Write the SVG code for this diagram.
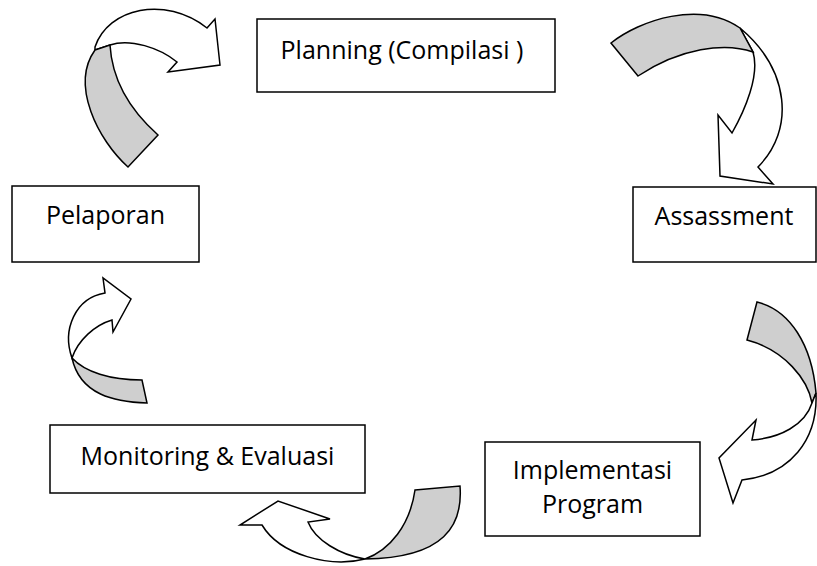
<svg xmlns="http://www.w3.org/2000/svg" width="817" height="566" viewBox="0 0 817 566">
  <style>
    .box { fill: #ffffff; stroke: #000000; stroke-width: 1.5; }
    .label { font-family: "Open Sans", "Noto Sans", "Liberation Sans", sans-serif; font-size: 25px; fill: #000000; text-anchor: middle; }
    .head { fill: #ffffff; stroke: #000000; stroke-width: 1.5; stroke-linejoin: miter; }
    .band { fill: #cfcfcf; stroke: #000000; stroke-width: 1.5; stroke-linejoin: miter; }
  </style>

  <rect width="817" height="566" fill="#ffffff"/>

  <!-- curved 3D-style arrows linking the cycle steps -->
  <g id="connectors">
    <!-- Pelaporan -> Planning -->
    <g id="arrow-pelaporan-planning">
      <path class="head" d="M95,47 C108,8 165,-5 207,28 L215,19 L220,65 L168,72 L177,62 C160,48 130,38 110,45 L95,50 Z"/>
      <path class="band" d="M95,50 L110,45 C112,80 130,110 158,135 L128,167 C98,140 70,85 95,50 Z"/>
    </g>
    <!-- Planning -> Assessment -->
    <g id="arrow-planning-assessment">
      <path class="head" d="M740,28 C790,70 795,130 758,167 L773,184 L720,176 L718,115 L732,133 C745,110 760,75 753,52 Z"/>
      <path class="band" d="M611,43 C640,20 700,0 740,28 L753,52 C725,42 680,48 638,76 Z"/>
    </g>
    <!-- Assessment -> Implementasi -->
    <g id="arrow-assessment-implementasi">
      <path class="band" d="M757,302 C790,310 812,345 816,393 L812,403 C808,380 785,350 747,340 Z"/>
      <path class="head" d="M816,393 C818,440 790,475 742,480 L733,503 L719,458 L756,420 L752,440 C780,438 805,425 812,403 Z"/>
    </g>
    <!-- Implementasi -> Monitoring -->
    <g id="arrow-implementasi-monitoring">
      <path class="band" d="M415,490 L460,486 C463,525 445,558 365,559 C390,550 410,525 415,490 Z"/>
      <path class="head" d="M365,559 C330,568 280,555 262,525 L240,525 L278,501 L330,519 L308,522 C315,540 340,555 365,559 Z"/>
    </g>
    <!-- Monitoring -> Pelaporan -->
    <g id="arrow-monitoring-pelaporan">
      <path class="band" d="M72,358 C85,372 110,380 142,380 L147,403 C115,402 80,395 72,358 Z"/>
      <path class="head" d="M72,358 C62,330 75,298 105,293 L103,278 L131,299 L113,332 L112,320 C95,325 78,340 72,358 Z"/>
    </g>
  </g>

  <g id="node-planning">
    <rect class="box" x="257" y="19" width="298" height="73"/>
    <text class="label" x="402" y="59">Planning (Compilasi )</text>
  </g>

  <g id="node-assessment">
    <rect class="box" x="633" y="187" width="183" height="75"/>
    <text class="label" x="724" y="225">Assassment</text>
  </g>

  <g id="node-implementasi">
    <rect class="box" x="485" y="442" width="215" height="94"/>
    <text class="label" x="592.5" y="479">Implementasi</text>
    <text class="label" x="592.5" y="513">Program</text>
  </g>

  <g id="node-monitoring">
    <rect class="box" x="50" y="425" width="315" height="68"/>
    <text class="label" x="207.5" y="465">Monitoring &amp; Evaluasi</text>
  </g>

  <g id="node-pelaporan">
    <rect class="box" x="12" y="186" width="187" height="76"/>
    <text class="label" x="105.5" y="224">Pelaporan</text>
  </g>
</svg>
